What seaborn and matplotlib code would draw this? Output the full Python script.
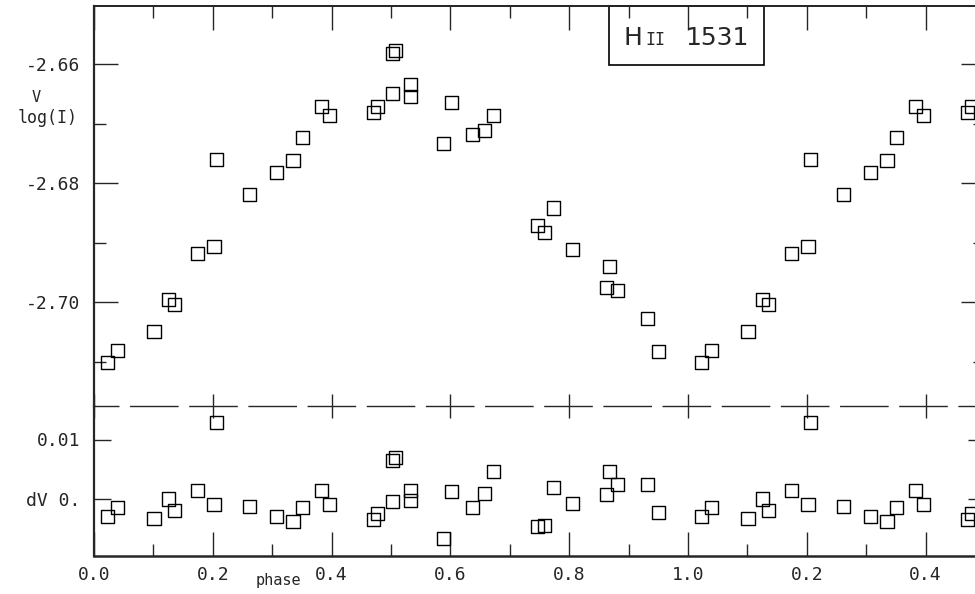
import numpy as np
import pandas as pd
import matplotlib
matplotlib.use("Agg")
import matplotlib.pyplot as plt
from matplotlib.patches import Rectangle
import seaborn as sns

# light curve of HII 1531: phase, V log(I) and residual dV
phase = [0.023, 0.039, 0.101, 0.126, 0.135, 0.175, 0.202, 0.207, 0.262, 0.307,
         0.335, 0.351, 0.383, 0.396, 0.470, 0.477, 0.502, 0.502, 0.507, 0.533,
         0.533, 0.589, 0.602, 0.637, 0.658, 0.673, 0.747, 0.759, 0.774, 0.806,
         0.863, 0.868, 0.882, 0.932, 0.951]
log_i = [-2.7101, -2.7081, -2.7050, -2.6995, -2.7005, -2.6918, -2.6906, -2.6760, -2.6820, -2.6783,
         -2.6763, -2.6723, -2.6672, -2.6686, -2.6682, -2.6672, -2.6650, -2.6582, -2.6578, -2.6635,
         -2.6654, -2.6734, -2.6664, -2.6718, -2.6711, -2.6687, -2.6872, -2.6884, -2.6842, -2.6911,
         -2.6975, -2.6941, -2.6980, -2.7027, -2.7084]
dv = [-0.0029, -0.0014, -0.0032, 0.0000, -0.0020, 0.0015, -0.0010, 0.0129, -0.0012, -0.0029,
      -0.0037, -0.0014, 0.0015, -0.0010, -0.0034, -0.0025, -0.0005, 0.0064, 0.0069, 0.0015,
      -0.0003, -0.0066, 0.0012, -0.0015, 0.0010, 0.0047, -0.0047, -0.0044, 0.0020, -0.0007,
      0.0008, 0.0047, 0.0025, 0.0024, -0.0022]

x_ticks = [0.0, 0.2, 0.4, 0.6, 0.8, 1.0, 1.2, 1.4]
x_tick_labels = ["0.0", "0.2", "0.4", "0.6", "0.8", "1.0", "0.2", "0.4"]
y_ticks = [-2.70, -2.68, -2.66]
y_tick_labels = ["-2.70", "-2.68", "-2.66"]
y_minor = [-2.71, -2.69, -2.67]
dv_ticks = [0.0, 0.01]
dv_tick_labels = ["dV 0.", "0.01"]

df = pd.DataFrame({"phase": phase, "logI": log_i, "dV": dv})
wrap = df[df["phase"] + 1 <= 1.5].assign(phase=lambda d: d["phase"] + 1)
full = pd.concat([df, wrap], ignore_index=True)

sns.set_style("ticks")
plt.rcParams["font.family"] = ["DejaVu Sans Mono", "DejaVu Sans"]

W, H = 975, 594
fig = plt.figure(figsize=(W / 100, H / 100), dpi=100)
fig.patch.set_facecolor("white")

def box(l, t, r, b):
    return [l / W, 1 - b / H, (r - l) / W, (b - t) / H]

ax1 = fig.add_axes(box(94, 6, 985, 406))
ax2 = fig.add_axes(box(94, 406, 985, 556), sharex=ax1)
for a in (ax1, ax2):
    a.set_facecolor("none")

pts = dict(marker="s", s=88, facecolors="none", edgecolor="black", linewidth=1.0,
           legend=False, clip_on=False)
sns.scatterplot(data=full, x="phase", y="logI", ax=ax1, **pts)
sns.scatterplot(data=full, x="phase", y="dV", ax=ax2, **pts)

ax1.set_xlim(0, 1.5)
ax1.set_ylim(-2.70 - 104 / 5950, -2.70 + 296 / 5950)
ax2.set_ylim(-57 / 5950, 93 / 5950)
for a in (ax1, ax2):
    a.set_xlabel("")
    a.set_ylabel("")

# spines
ax1.spines["top"].set_linewidth(1.3)
ax1.spines["left"].set_linewidth(1.6)
ax1.spines["bottom"].set_linewidth(1.0)
ax1.spines["bottom"].set_linestyle((16.5, (34, 8.6)))
ax2.spines["top"].set_visible(False)
ax2.spines["left"].set_linewidth(1.6)
ax2.spines["bottom"].set_linewidth(1.8)

# upper panel ticks
ax1.set_xticks([t for t in x_ticks if t > 0])
ax1.tick_params(axis="x", which="major", bottom=True, top=False, direction="inout",
                length=17, width=1.0, labelbottom=False)
ax1.tick_params(axis="x", which="minor", bottom=False, top=False)
ax1.set_yticks(y_ticks)
ax1.set_yticklabels(y_tick_labels)
ax1.set_yticks(y_minor, minor=True)
ax1.tick_params(axis="y", which="major", left=True, right=True, direction="in",
                length=17, width=1.0, pad=10, labelsize=13)
ax1.tick_params(axis="y", which="minor", left=True, right=True, direction="in",
                length=8.5, width=1.0)

top = ax1.secondary_xaxis("top")
top.set_xticks(x_ticks)
top.set_xticks(np.arange(0.1, 1.5, 0.2), minor=True)
top.tick_params(which="major", direction="in", length=17, width=1.0, labeltop=False)
top.tick_params(which="minor", direction="in", length=8.5, width=1.0)
top.spines["top"].set_linewidth(1.3)

# lower panel ticks
ax2.set_xticks(x_ticks)
ax2.set_xticklabels(x_tick_labels)
ax2.set_xticks(np.arange(0.1, 1.5, 0.2), minor=True)
ax2.tick_params(axis="x", which="major", bottom=True, top=False, direction="in",
                length=17, width=1.0, pad=7, labelsize=13)
ax2.tick_params(axis="x", which="minor", bottom=True, top=False, direction="in",
                length=8.5, width=1.0)
ax2.set_yticks(dv_ticks)
ax2.set_yticklabels(dv_tick_labels)
ax2.tick_params(axis="y", which="major", left=True, right=True, direction="in",
                length=12, width=1.0, pad=10, labelsize=13)
ax2.tick_params(axis="y", which="minor", left=False, right=False)

# axis texts
fig.text(36 / W, 1 - 98 / H, "V", ha="center", va="center", fontsize=11)
fig.text(48 / W, 1 - 118 / H, "log(I)", ha="center", va="center", fontsize=12)
fig.text(278 / W, 1 - 581 / H, "phase", ha="center", va="center", fontsize=11)

# star name box
ax1.add_patch(Rectangle(((609 - 94) / 891, 1 - (65 - 6) / 400), 155 / 891, (65 - 6) / 400,
                        transform=ax1.transAxes, fill=False, lw=1.2, ec="black",
                        clip_on=False))
fig.text(623 / W, 1 - 45 / H, "H", ha="left", va="baseline", fontsize=18,
         family="DejaVu Sans")
fig.text(645 / W, 1 - 45 / H, "II", ha="left", va="baseline", fontsize=12,
         family="DejaVu Sans Mono")
fig.text(685 / W, 1 - 45 / H, "1531", ha="left", va="baseline", fontsize=18,
         family="DejaVu Sans")

fig.savefig("out.png", dpi=100)
